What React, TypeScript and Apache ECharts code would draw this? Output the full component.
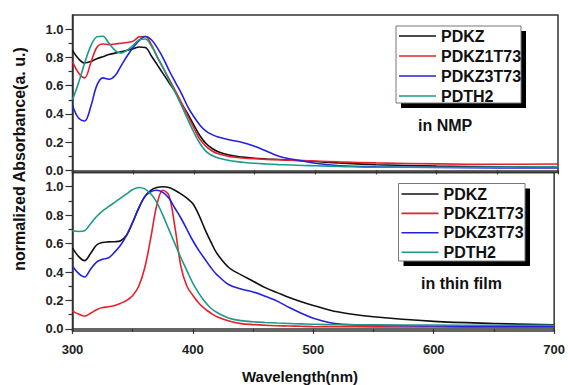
import React, { useEffect, useRef } from "react";
import * as echarts from "echarts";

const wavelengths = [300,305,310,315,320,325,330,335,340,345,350,355,360,365,370,375,380,385,390,395,400,405,410,415,420,430,440,450,460,470,480,490,500,520,550,600,650,700];

const seriesNames = ["PDKZ", "PDKZ1T73", "PDKZ3T73", "PDTH2"];
const seriesColors = ["#111111", "#e8202a", "#2222dd", "#1b9a8a"];

// Top panel: in NMP
const nmpPDKZ = [.85,.79,.76,.77,.79,.805,.82,.83,.84,.85,.862,.873,.87,.81,.745,.68,.615,.55,.47,.40,.32,.245,.19,.155,.132,.107,.094,.086,.081,.077,.072,.068,.063,.052,.04,.03,.025,.022];
const nmpPDKZ1T73 = [.77,.69,.655,.76,.87,.895,.89,.895,.90,.905,.915,.945,.948,.89,.80,.72,.64,.56,.475,.385,.30,.22,.17,.137,.117,.097,.088,.082,.078,.075,.072,.069,.066,.06,.053,.046,.043,.045];
const nmpPDKZ3T73 = [.46,.37,.35,.45,.60,.655,.645,.67,.74,.81,.87,.92,.948,.925,.865,.79,.70,.62,.54,.45,.38,.32,.278,.253,.237,.215,.198,.17,.135,.10,.08,.066,.05,.033,.025,.02,.018,.018];
const nmpPDTH2 = [.50,.62,.76,.88,.945,.95,.90,.85,.83,.85,.885,.925,.93,.88,.80,.72,.63,.545,.455,.36,.27,.19,.135,.105,.088,.068,.058,.05,.045,.041,.038,.035,.033,.028,.022,.022,.023,.025];

// Bottom panel: in thin film
const filmPDKZ = [.57,.51,.48,.53,.59,.608,.612,.613,.62,.66,.75,.85,.93,.975,.995,1.0,.995,.975,.95,.92,.88,.80,.70,.61,.53,.43,.38,.335,.29,.255,.22,.19,.165,.12,.085,.053,.038,.028];
const filmPDKZ1T73 = [.125,.105,.09,.11,.135,.15,.155,.165,.18,.20,.235,.30,.43,.64,.87,.975,.94,.72,.44,.30,.235,.18,.14,.11,.085,.055,.037,.03,.025,.022,.02,.018,.016,.015,.014,.013,.012,.012];
const filmPDKZ3T73 = [.44,.39,.365,.42,.47,.49,.50,.54,.59,.66,.75,.85,.93,.965,.975,.96,.92,.85,.78,.70,.62,.55,.49,.43,.38,.31,.28,.26,.23,.195,.15,.11,.075,.035,.025,.02,.018,.018];
const filmPDTH2 = [.69,.685,.69,.74,.79,.83,.86,.89,.92,.95,.98,.995,.985,.95,.89,.80,.70,.60,.50,.41,.32,.25,.19,.145,.115,.075,.058,.05,.045,.041,.038,.035,.032,.029,.028,.026,.025,.025];

const nmpData = [nmpPDKZ, nmpPDKZ1T73, nmpPDKZ3T73, nmpPDTH2];
const filmData = [filmPDKZ, filmPDKZ1T73, filmPDKZ3T73, filmPDTH2];

const majorYTicks = [0, 0.2, 0.4, 0.6, 0.8, 1.0];
const minorYTicks = [0.1, 0.3, 0.5, 0.7, 0.9];
const yMin = -0.015;
const yMax = 1.1;

const FONT = "'Liberation Sans', Arial, sans-serif";
const AXIS_COLOR = "#333";

export default function App() {
  const ref = useRef<HTMLDivElement>(null);

  useEffect(() => {
    if (!ref.current) return;
    const chart = echarts.init(ref.current, undefined, { renderer: "svg" });

    const grids = [
      { left: 72.5, top: 15, width: 485.5, height: 157.5, show: true, borderColor: AXIS_COLOR, borderWidth: 1.5 },
      { left: 72.5, top: 172.5, width: 485.5, height: 158.5, show: true, borderColor: AXIS_COLOR, borderWidth: 1.5 },
    ];

    const xAxes = [0, 1].map((g) => ({
      type: "value",
      gridIndex: g,
      min: 300,
      max: 700,
      interval: 100,
      axisLine: { show: true, lineStyle: { color: AXIS_COLOR, width: 1.5 } },
      axisTick: { show: true, inside: false, length: g === 0 ? 4 : 5, lineStyle: { color: AXIS_COLOR, width: 1.2 } },
      minorTick: { show: true, splitNumber: 2, length: g === 0 ? 4 : 3, lineStyle: { color: AXIS_COLOR, width: 1.2 } },
      axisLabel: {
        show: g === 1,
        margin: 12,
        fontSize: 13,
        fontWeight: "bold",
        fontFamily: FONT,
        color: "#222",
      },
      splitLine: { show: false },
      minorSplitLine: { show: false },
    }));

    const yAxes: any[] = [];
    [0, 1].forEach((g) => {
      yAxes.push({
        type: "value",
        gridIndex: g,
        min: yMin,
        max: yMax,
        position: "left",
        axisLine: { show: true, lineStyle: { color: AXIS_COLOR, width: 1.5 } },
        axisTick: { show: true, inside: false, length: 7, customValues: majorYTicks, lineStyle: { color: AXIS_COLOR, width: 1.2 } },
        axisLabel: {
          show: true,
          customValues: majorYTicks,
          formatter: (v: number) => v.toFixed(1),
          margin: 9,
          fontSize: 13,
          fontWeight: "bold",
          fontFamily: FONT,
          color: "#222",
        },
        splitLine: { show: false },
      });
      yAxes.push({
        type: "value",
        gridIndex: g,
        min: yMin,
        max: yMax,
        position: "left",
        axisLine: { show: false },
        axisTick: { show: true, inside: false, length: 4, customValues: minorYTicks, lineStyle: { color: AXIS_COLOR, width: 1.2 } },
        axisLabel: { show: false },
        splitLine: { show: false },
      });
    });

    const makeSeries = (data: number[][], g: number) =>
      data.map((vals, i) => ({
        name: seriesNames[i],
        type: "line",
        xAxisIndex: g,
        yAxisIndex: g * 2,
        symbol: "none",
        smooth: 0.35,
        data: wavelengths.map((w, k) => [w, vals[k]]),
        lineStyle: { color: seriesColors[i], width: 1.6 },
        itemStyle: { color: seriesColors[i] },
        z: 2,
      }));

    const legendBase = {
      orient: "vertical",
      padding: 0,
      icon: "rect",
      itemWidth: 37,
      itemHeight: 1.6,
      selectedMode: false,
      data: seriesNames,
      textStyle: { fontSize: 16, fontWeight: "bold", fontFamily: FONT, color: "#111" },
      z: 6,
    };

    const box = (x: number, y: number, w: number, h: number) => [
      { type: "rect", shape: { x: x + 5, y: y + 5, width: w, height: h }, style: { fill: "#000" }, z: 4 },
      { type: "rect", shape: { x, y, width: w, height: h }, style: { fill: "#fff", stroke: "#777", lineWidth: 1 }, z: 5 },
    ];

    const option: any = {
      animation: false,
      backgroundColor: "#fff",
      grid: grids,
      xAxis: xAxes,
      yAxis: yAxes,
      legend: [
        { ...legendBase, left: 399, top: 28, itemGap: 4 },
        { ...legendBase, left: 401.5, top: 186, itemGap: 3.4 },
      ],
      series: [...makeSeries(nmpData, 0), ...makeSeries(filmData, 1)],
      graphic: [
        ...box(396, 26, 125, 77),
        ...box(398.5, 183.5, 126.5, 77.5),
        {
          type: "text",
          x: 418,
          y: 125,
          z: 6,
          style: { text: "in NMP", font: `bold 16px ${FONT}`, fill: "#111", align: "left", verticalAlign: "middle" },
        },
        {
          type: "text",
          x: 421,
          y: 283,
          z: 6,
          style: { text: "in thin film", font: `bold 16px ${FONT}`, fill: "#111", align: "left", verticalAlign: "middle" },
        },
        {
          type: "text",
          x: 19,
          y: 159,
          rotation: Math.PI / 2,
          z: 6,
          style: { text: "normalized Absorbance(a. u.)", font: `bold 16px ${FONT}`, fill: "#111", align: "center", verticalAlign: "middle" },
        },
        {
          type: "text",
          x: 300,
          y: 376,
          z: 6,
          style: { text: "Wavelength(nm)", font: `bold 15px ${FONT}`, fill: "#111", align: "center", verticalAlign: "middle" },
        },
      ],
    };

    chart.setOption(option);
    return () => chart.dispose();
  }, []);

  return (
    <div
      ref={ref}
      style={{ position: "fixed", left: 0, top: 0, width: 568, height: 385 }}
    />
  );
}
